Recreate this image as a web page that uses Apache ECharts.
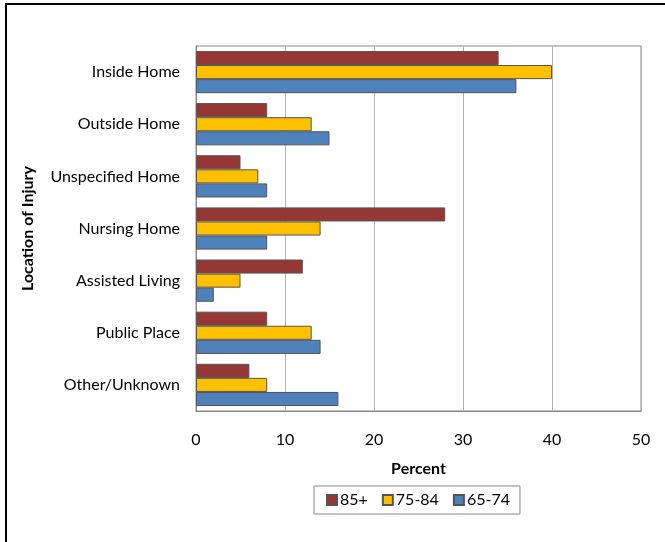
<!DOCTYPE html>
<html><head><meta charset="utf-8">
<script src="https://cdn.jsdelivr.net/npm/echarts@6/dist/echarts.min.js"></script>
<style>html,body{margin:0;padding:0;background:#fff}#c{width:665px;height:542px}</style>
</head><body><div id="c"></div>
<script>
const categories = ["Inside Home","Outside Home","Unspecified Home","Nursing Home","Assisted Living","Public Place","Other/Unknown"];
const seriesNames = ["85+","75-84","65-74"];
const v85 = [34, 8, 5, 28, 12, 8, 6];
const v75 = [40, 13, 7, 14, 5, 13, 8];
const v65 = [36, 15, 8, 8, 2, 14, 16];
const colors = ["#953735","#FFC000","#4F81BD"];
const xTicks = [0,10,20,30,40,50];

const font = "Lato, 'Open Sans', sans-serif";
const chart = echarts.init(document.getElementById('c'), null, {renderer:'canvas'});
const data = [v85, v75, v65];
chart.setOption({
  animation:false,
  textStyle:{fontFamily:font},
  graphic:[{type:'rect', shape:{x:6,y:4,width:700,height:600}, style:{fill:'none', stroke:'#000', lineWidth:2}, z:100}],
  grid:{left:196, top:46, width:445, height:365, show:true, borderColor:'#888', borderWidth:1},
  legend:{bottom:28, left:314, itemWidth:10, itemHeight:10, itemGap:14, padding:[6,10,6,12],
    borderColor:'#888', borderWidth:1, icon:'rect',
    textStyle:{fontSize:16, color:'#000', fontFamily:font, padding:[0,0,0,-2]},
    data:seriesNames},
  xAxis:{type:'value', min:0, max:50, interval:10,
    name:'Percent', nameLocation:'middle', nameGap:50,
    nameTextStyle:{fontWeight:'bold', fontSize:16, color:'#000', fontFamily:font},
    axisLine:{show:true, lineStyle:{color:'#888'}}, axisTick:{show:false},
    axisLabel:{fontSize:16, color:'#000', margin:21, fontFamily:font},
    splitLine:{show:true, lineStyle:{color:'#b4b4b4', width:1}}},
  yAxis:{type:'category', data:categories, inverse:true,
    name:'Location of Injury', nameLocation:'middle', nameGap:160, nameRotate:90,
    nameTextStyle:{fontWeight:'bold', fontSize:16, color:'#000', fontFamily:font},
    axisLine:{show:true, lineStyle:{color:'#888'}}, axisTick:{show:false},
    axisLabel:{fontSize:16, color:'#000', margin:16, fontFamily:font}},
  series: seriesNames.map((n,i)=>({
    name:n, type:'bar', data:data[i], barGap:'0%', barCategoryGap:'19%',
    itemStyle:{color:colors[i], borderColor:'#555', borderWidth:1}
  }))
});
</script></body></html>
